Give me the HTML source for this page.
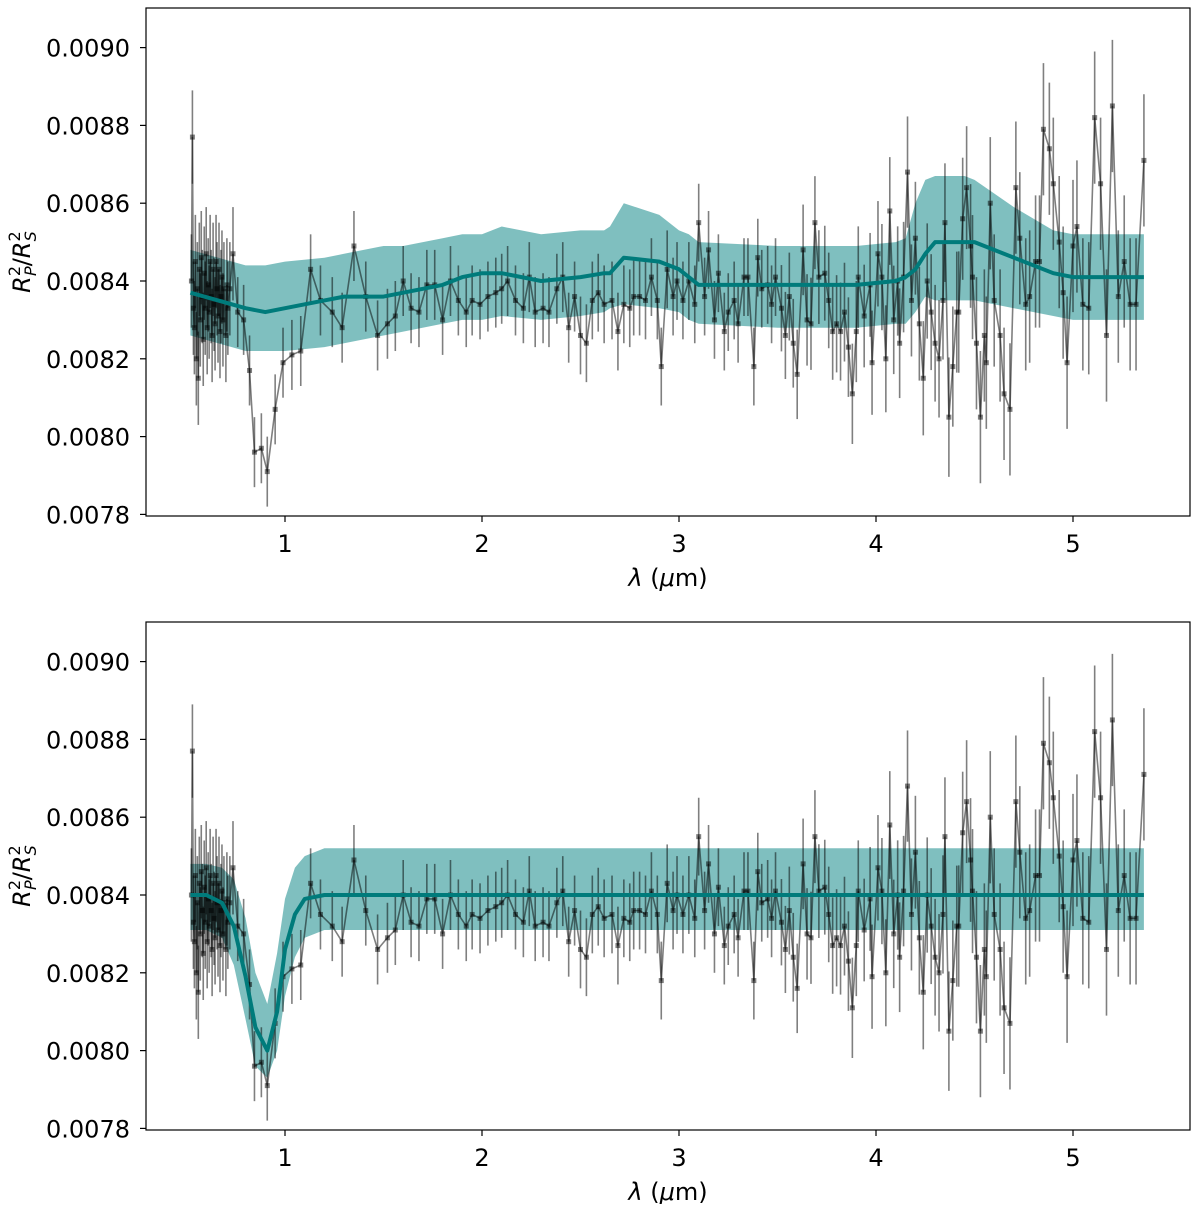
<!DOCTYPE html>
<html><head><meta charset="utf-8"><style>
body{margin:0;background:#fff;}
svg text{font-family:"DejaVu Sans","Liberation Sans",sans-serif;}
</style></head><body>
<svg id="chart" width="1200" height="1204" viewBox="0 0 1200 1204" xmlns="http://www.w3.org/2000/svg"></svg>
<script>
const wl = [0.525,0.53,0.535,0.54,0.545,0.55,0.555,0.56,0.565,0.57,0.575,0.58,0.585,0.59,0.595,0.60,0.605,0.61,0.615,0.62,0.625,0.63,0.635,0.64,0.645,0.65,0.655,0.66,0.665,0.67,0.675,0.68,0.685,0.69,0.70,0.705,0.71,0.72,
0.736,0.76,0.79,0.82,0.845,0.88,0.91,0.95,0.99,1.035,1.08,1.13,1.18,1.24,1.29,1.35,1.41,1.47,1.52,1.56,1.60,1.64,1.68,1.72,1.76,1.80,1.84,1.88,1.92,1.95,1.99,2.03,2.07,2.10,2.13,
2.17,2.21,2.24,2.27,2.31,2.34,2.38,2.41,2.44,2.47,2.50,2.53,2.56,2.59,2.62,2.66,2.69,2.72,2.75,2.77,2.80,2.83,2.86,2.89,2.91,2.94,2.97,2.99,3.02,3.05,3.08,3.10,3.13,3.15,3.18,3.20,3.23,3.25,3.28,3.30,3.33,3.35,3.38,3.40,3.42,3.45,3.47,3.49,3.52,3.54,3.56,3.58,3.60,3.63,3.65,3.67,3.69,3.71,3.74,3.76,3.78,3.80,3.82,3.84,3.86,3.88,3.90,3.91,
3.94,3.97,3.98,4.01,4.03,4.05,4.07,4.09,4.11,4.12,4.14,4.16,4.18,4.20,4.22,4.24,4.26,4.28,4.30,4.32,4.34,4.35,4.37,4.39,4.41,4.42,4.44,4.46,4.48,4.49,4.51,4.53,4.55,4.56,4.58,4.60,4.63,4.65,4.68,4.71,4.73,4.76,4.78,4.81,4.83,4.85,4.88,4.90,4.93,4.95,4.97,5.00,5.02,5.05,5.08,5.11,5.14,5.17,5.20,5.23,5.26,5.29,5.32,5.36];
const depth = [0.00840,0.00877,0.00833,0.00828,0.00845,0.00820,0.00838,0.00815,0.00843,0.00830,0.00846,0.00836,0.00825,0.00842,0.00833,0.00847,0.00828,0.00839,0.00832,0.00845,0.00836,0.00826,0.00843,0.00834,0.00829,0.00845,0.00838,0.00831,0.00843,0.00827,0.00836,0.00841,0.00830,0.00838,0.00826,0.00839,0.00833,0.00838,
0.00847,0.00832,0.00830,0.00817,0.00796,0.00797,0.00791,0.00807,0.00819,0.00821,0.00822,0.00843,0.00835,0.00832,0.00828,0.00849,0.00836,0.00826,0.00829,0.00831,0.00840,0.00833,0.00832,0.00839,0.00839,0.00830,0.00840,0.00835,0.00832,0.00835,0.00834,0.00836,0.00837,0.00838,0.00840,
0.00835,0.00833,0.00841,0.00832,0.00833,0.00832,0.00838,0.00841,0.00828,0.00836,0.00826,0.00824,0.00835,0.00837,0.00834,0.00835,0.00827,0.00834,0.00833,0.00836,0.00836,0.00835,0.00841,0.00835,0.00818,0.00843,0.00836,0.00840,0.00835,0.00840,0.00834,0.00855,0.00836,0.00848,0.00830,0.00842,0.00827,0.00832,0.00835,0.00829,0.00841,0.00841,0.00818,0.00846,0.00838,0.00839,0.00834,0.00841,0.00833,0.00826,0.00836,0.00824,0.00816,0.00848,0.00830,0.00829,0.00855,0.00841,0.00842,0.00835,0.00827,0.00829,0.00827,0.00832,0.00823,0.00811,0.00827,0.00841,
0.00831,0.00839,0.00819,0.00847,0.00841,0.00820,0.00858,0.00830,0.00840,0.00824,0.00841,0.00868,0.00835,0.00851,0.00829,0.00815,0.00840,0.00832,0.00824,0.00820,0.00835,0.00855,0.00805,0.00818,0.00832,0.00832,0.00856,0.00864,0.00849,0.00841,0.00824,0.00805,0.00826,0.00819,0.00860,0.00835,0.00826,0.00811,0.00807,0.00864,0.00851,0.00834,0.00836,0.00845,0.00845,0.00879,0.00874,0.00865,0.00850,0.00837,0.00819,0.00849,0.00854,0.00834,0.00833,0.00882,0.00865,0.00826,0.00885,0.00836,0.00845,0.00834,0.00834,0.00871];

// model 1 (top panel)
const m1Wl = [0.52,0.8,0.9,1.0,1.2,1.3,1.5,1.6,1.8,1.9,2.0,2.1,2.3,2.5,2.62,2.65,2.72,2.9,3.0,3.05,3.1,3.5,3.9,4.1,4.15,4.2,4.25,4.3,4.45,4.5,4.7,4.9,5.0,5.36];
const m1Mean = [0.00837,0.00833,0.00832,0.00833,0.00835,0.00836,0.00836,0.00837,0.00839,0.00841,0.00842,0.00842,0.00840,0.00841,0.00842,0.00842,0.00846,0.00845,0.00843,0.00841,0.00839,0.00839,0.00839,0.00840,0.00841,0.00843,0.00847,0.00850,0.00850,0.00850,0.00846,0.00842,0.00841,0.00841];
const m1Hi = [0.00848,0.00844,0.00844,0.00845,0.00846,0.00847,0.00849,0.00849,0.00851,0.00852,0.00852,0.00854,0.00852,0.00853,0.00853,0.00854,0.00860,0.00857,0.00853,0.00852,0.00850,0.00849,0.00849,0.00850,0.00851,0.00860,0.00866,0.00867,0.00867,0.00866,0.00859,0.00853,0.00852,0.00852];
const m1Lo = [0.00826,0.00822,0.00822,0.00822,0.00823,0.00824,0.00826,0.00827,0.00829,0.00830,0.00830,0.00831,0.00830,0.00831,0.00832,0.00833,0.00834,0.00833,0.00832,0.00830,0.00829,0.00828,0.00828,0.00829,0.00829,0.00832,0.00836,0.00835,0.00835,0.00835,0.00833,0.00831,0.00830,0.00830];
// model 2 (bottom panel)
const m2Wl = [0.52,0.6,0.68,0.74,0.8,0.85,0.91,0.96,1.0,1.05,1.1,1.2,1.3,5.36];
const m2Mean = [0.00840,0.00840,0.00838,0.00832,0.00819,0.00806,0.00800,0.00810,0.00826,0.00835,0.00839,0.00840,0.00840,0.00840];
const m2Hi = [0.00848,0.00848,0.00847,0.00844,0.00834,0.00820,0.00812,0.00825,0.00839,0.00847,0.00850,0.00852,0.00852,0.00852];
const m2Lo = [0.00831,0.00831,0.00829,0.00822,0.00808,0.00796,0.00793,0.00800,0.00814,0.00824,0.00829,0.00831,0.00831,0.00831];

const xTicks = [1,2,3,4,5];
const yTicks = [0.0078,0.0080,0.0082,0.0084,0.0086,0.0088,0.0090];

const NS = "http://www.w3.org/2000/svg";
const svg = document.getElementById('chart');
function mk(tag, attrs, parent){const e=document.createElementNS(NS,tag);for(const k in attrs)e.setAttribute(k,attrs[k]);(parent||svg).appendChild(e);return e;}
function sigma(l){ if(l<0.75) return 0.00012; if(l<2.5) return 0.00009; if(l<3.5) return 0.0001; if(l<4.5) return 0.00011+(l-3.5)*0.00005; return 0.00017; }
const xS = l => 88 + l*197;
const L=146,R=1190;

function panel(off, mWl, mMean, mHi, mLo, name){
  const yS = v => off + 281 - (v-0.0084)/0.0002*77.8;
  const g = mk('g',{});
  
  
  let d='M'+mWl.map((l,i)=>xS(l).toFixed(1)+','+yS(mHi[i]).toFixed(1)).join('L');
  for(let i=mWl.length-1;i>=0;i--) d+='L'+xS(mWl[i]).toFixed(1)+','+yS(mLo[i]).toFixed(1);
  const band = mk('path',{d:d+'Z',fill:'#008080','fill-opacity':0.5,stroke:'none'},g);
  
  
  const eg = mk('g',{stroke:'#000','stroke-opacity':0.5,'stroke-width':1.6},g);
  
  
  wl.forEach((l,i)=>{const s=sigma(l);mk('line',{x1:xS(l),x2:xS(l),y1:yS(depth[i]+s),y2:yS(depth[i]-s)},eg);});
  const dl = mk('polyline',{points:wl.map((l,i)=>xS(l).toFixed(1)+','+yS(depth[i]).toFixed(1)).join(' '),fill:'none',stroke:'#000','stroke-opacity':0.5,'stroke-width':1.6},g);
  
  
  const mg = mk('g',{fill:'#000','fill-opacity':0.5},g);
  
  
  wl.forEach((l,i)=>{mk('rect',{x:xS(l)-2.5,y:yS(depth[i])-2.5,width:5,height:5},mg);});
  const ml = mk('polyline',{points:mWl.map((l,i)=>xS(l).toFixed(1)+','+yS(mMean[i]).toFixed(1)).join(' '),fill:'none',stroke:'#007b7b','stroke-width':4,'stroke-linejoin':'round'},g);
  
  
  const fr = mk('rect',{x:L,y:off+8,width:R-L,height:508,fill:'none',stroke:'#000','stroke-width':1.2},g);
  
  
  xTicks.forEach(t=>{
    mk('line',{x1:xS(t),x2:xS(t),y1:off+516,y2:off+522,stroke:'#000','stroke-width':1.2},g);
    const tx = mk('text',{x:xS(t),y:off+552,'font-size':24,'text-anchor':'middle'},g);
    tx.textContent=t;
    
    
  });
  yTicks.forEach(t=>{
    const y=yS(t);
    mk('line',{x1:L-6,x2:L,y1:y,y2:y,stroke:'#000','stroke-width':1.2},g);
    const tx = mk('text',{x:L-16,y:y+9,'font-size':24,'text-anchor':'end'},g);
    tx.textContent=t.toFixed(4);
    
    
  });
  const xl = mk('text',{x:668,y:off+586,'font-size':24,'text-anchor':'middle'},g);
  xl.innerHTML='<tspan font-style="italic">λ</tspan> (<tspan font-style="italic">μ</tspan>m)';
  
  
  const yl = mk('text',{x:0,y:0,'font-size':24,'text-anchor':'middle',transform:'translate(30,'+(off+262)+') rotate(-90)'},g);
  yl.innerHTML='<tspan font-style="italic">R</tspan><tspan font-size="16" dy="-10">2</tspan><tspan font-size="16" font-style="italic" dx="-10" dy="16">P</tspan><tspan dy="-6">/</tspan><tspan font-style="italic">R</tspan><tspan font-size="16" dy="-10">2</tspan><tspan font-size="16" font-style="italic" dx="-10" dy="16">S</tspan>';
  
  
}
panel(0, m1Wl, m1Mean, m1Hi, m1Lo, 'top-panel');
panel(614, m2Wl, m2Mean, m2Hi, m2Lo, 'bottom-panel');
</script>
</body></html>
